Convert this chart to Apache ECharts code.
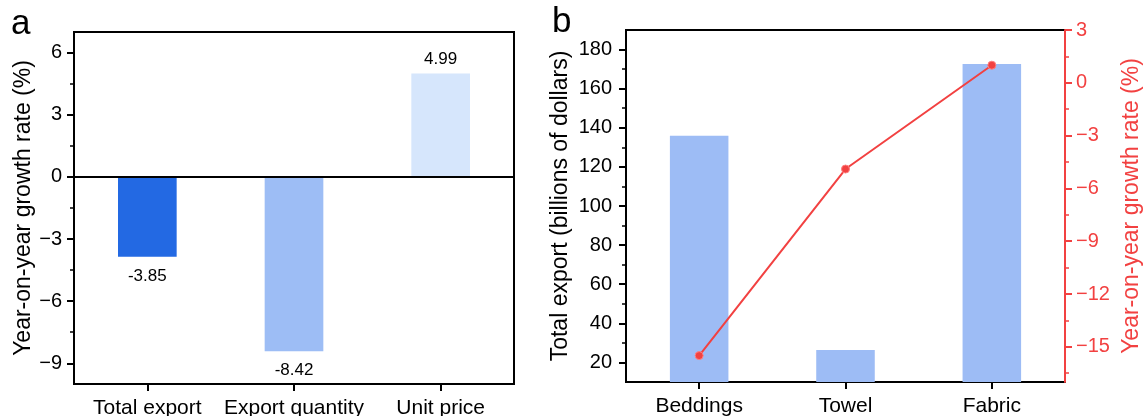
<!DOCTYPE html>
<html>
<head>
<meta charset="utf-8">
<script src="https://cdn.jsdelivr.net/npm/echarts@6/dist/echarts.min.js"></script>
<style>
  html, body { margin: 0; padding: 0; background: #fff; }
  #chart { width: 1144px; height: 416px; }
</style>
</head>
<body>
<div id="chart"></div>
<script>
// panel a: growth rates
const catsA = ['Total export', 'Export quantity', 'Unit price']
const growthA = [-3.85, -8.42, 4.99]
const ticksA = [-9, -6, -3, 0, 3, 6]
const minorTicksA = [-7.5, -4.5, -1.5, 1.5, 4.5]

// panel b: export value and growth by product
const catsB = ['Beddings', 'Towel', 'Fabric']
const exportB = [135.9, 26.3, 172.6]
const rateB = [-15.5, -4.9, 1.0]
const ticksBLeft = [20, 40, 60, 80, 100, 120, 140, 160, 180]
const minorTicksBLeft = [30, 50, 70, 90, 110, 130, 150, 170]
const ticksBRight = [-15, -12, -9, -6, -3, 0, 3]
const minorTicksBRight = [-16.5, -13.5, -10.5, -7.5, -4.5, -1.5, 1.5]

const FONT = '"Liberation Sans", Arial, sans-serif'
const RED = '#f24141'
const barColorsA = ['#2369e3', '#9dbdf5', '#d6e6fc']

const minus = v => String(v).replace('-', '\u2212')

// major axis with labels + ticks at given values
function majorAxis(gridIndex, position, min, max, ticks, color, name, nameGap, margin) {
  return {
    type: 'value', gridIndex, position, min, max,
    name, nameLocation: 'middle', nameGap, nameRotate: 90,
    nameTextStyle: { fontSize: 23, color, fontFamily: FONT },
    axisLine: { show: true, onZero: false, lineStyle: { color, width: 2 } },
    axisTick: { show: true, inside: false, length: 7, customValues: ticks, lineStyle: { color, width: 2 } },
    axisLabel: { show: true, customValues: ticks, margin, fontSize: 20, color, fontFamily: FONT, formatter: minus },
    splitLine: { show: false },
    z: 5,
  }
}

// invisible axis that only draws the short minor ticks
function minorAxis(gridIndex, position, min, max, ticks, color) {
  return {
    type: 'value', gridIndex, position, min, max,
    axisLine: { show: false, onZero: false },
    axisTick: { show: true, inside: false, length: 4, customValues: ticks, lineStyle: { color, width: 1.5 } },
    axisLabel: { show: false },
    splitLine: { show: false },
  }
}

function catAxis(gridIndex, data) {
  return {
    type: 'category', gridIndex, data, position: 'bottom',
    axisLine: { show: true, onZero: false, lineStyle: { color: '#000', width: 2 } },
    axisTick: { show: true, alignWithLabel: true, length: 7, lineStyle: { color: '#000', width: 2 } },
    axisLabel: { interval: 0, margin: 14, fontSize: 21, color: '#000', fontFamily: FONT, hideOverlap: false },
    splitLine: { show: false },
  }
}

const chart = echarts.init(document.getElementById('chart'), null, { renderer: 'canvas' })

chart.setOption({
  animation: false,
  backgroundColor: '#fff',
  textStyle: { fontFamily: FONT },
  grid: [
    { left: 74, top: 32, width: 440, height: 352, show: true, borderColor: '#000', borderWidth: 2,
      containLabel: false, outerBoundsMode: 'none' },
    { left: 626, top: 30, width: 439, height: 352, show: true, borderColor: '#000', borderWidth: 2,
      containLabel: false, outerBoundsMode: 'none' },
  ],
  xAxis: [catAxis(0, catsA), catAxis(1, catsB)],
  yAxis: [
    majorAxis(0, 'left', -10, 7, ticksA, '#000', 'Year-on-year growth rate (%)', 38, 12),
    minorAxis(0, 'left', -10, 7, minorTicksA, '#000'),
    majorAxis(1, 'left', 10, 190, ticksBLeft, '#000', 'Total export (billions of dollars)', 54, 14),
    minorAxis(1, 'left', 10, 190, minorTicksBLeft, '#000'),
    majorAxis(1, 'right', -17, 3, ticksBRight, RED, 'Year-on-year growth rate (%)', 55, 11),
    minorAxis(1, 'right', -17, 3, minorTicksBRight, RED),
  ],
  graphic: [
    { type: 'text', left: 11, top: 7, style: { text: 'a', fontSize: 35, fontFamily: FONT, fill: '#000' } },
    { type: 'text', left: 552, top: 5, style: { text: 'b', fontSize: 35, fontFamily: FONT, fill: '#000' } },
  ],
  series: [
    {
      type: 'bar', xAxisIndex: 0, yAxisIndex: 0, barWidth: '40%',
      data: growthA.map((v, i) => ({
        value: v,
        itemStyle: { color: barColorsA[i] },
        label: { position: v < 0 ? 'bottom' : 'top', distance: v < 0 ? 11 : 6 },
      })),
      label: { show: true, fontSize: 17, color: '#000', fontFamily: FONT },
      markLine: {
        silent: true, symbol: 'none', label: { show: false },
        lineStyle: { color: '#000', width: 2, type: 'solid' },
        data: [{ yAxis: 0 }],
      },
    },
    {
      type: 'bar', xAxisIndex: 1, yAxisIndex: 2, barWidth: '40%',
      itemStyle: { color: '#9dbcf5' },
      data: exportB,
    },
    {
      type: 'line', xAxisIndex: 1, yAxisIndex: 4,
      data: rateB,
      symbol: 'circle', symbolSize: 8,
      lineStyle: { color: RED, width: 2 },
      itemStyle: { color: RED, borderColor: '#ff8080', borderWidth: 1 },
      z: 10,
    },
  ],
})
</script>
</body>
</html>
